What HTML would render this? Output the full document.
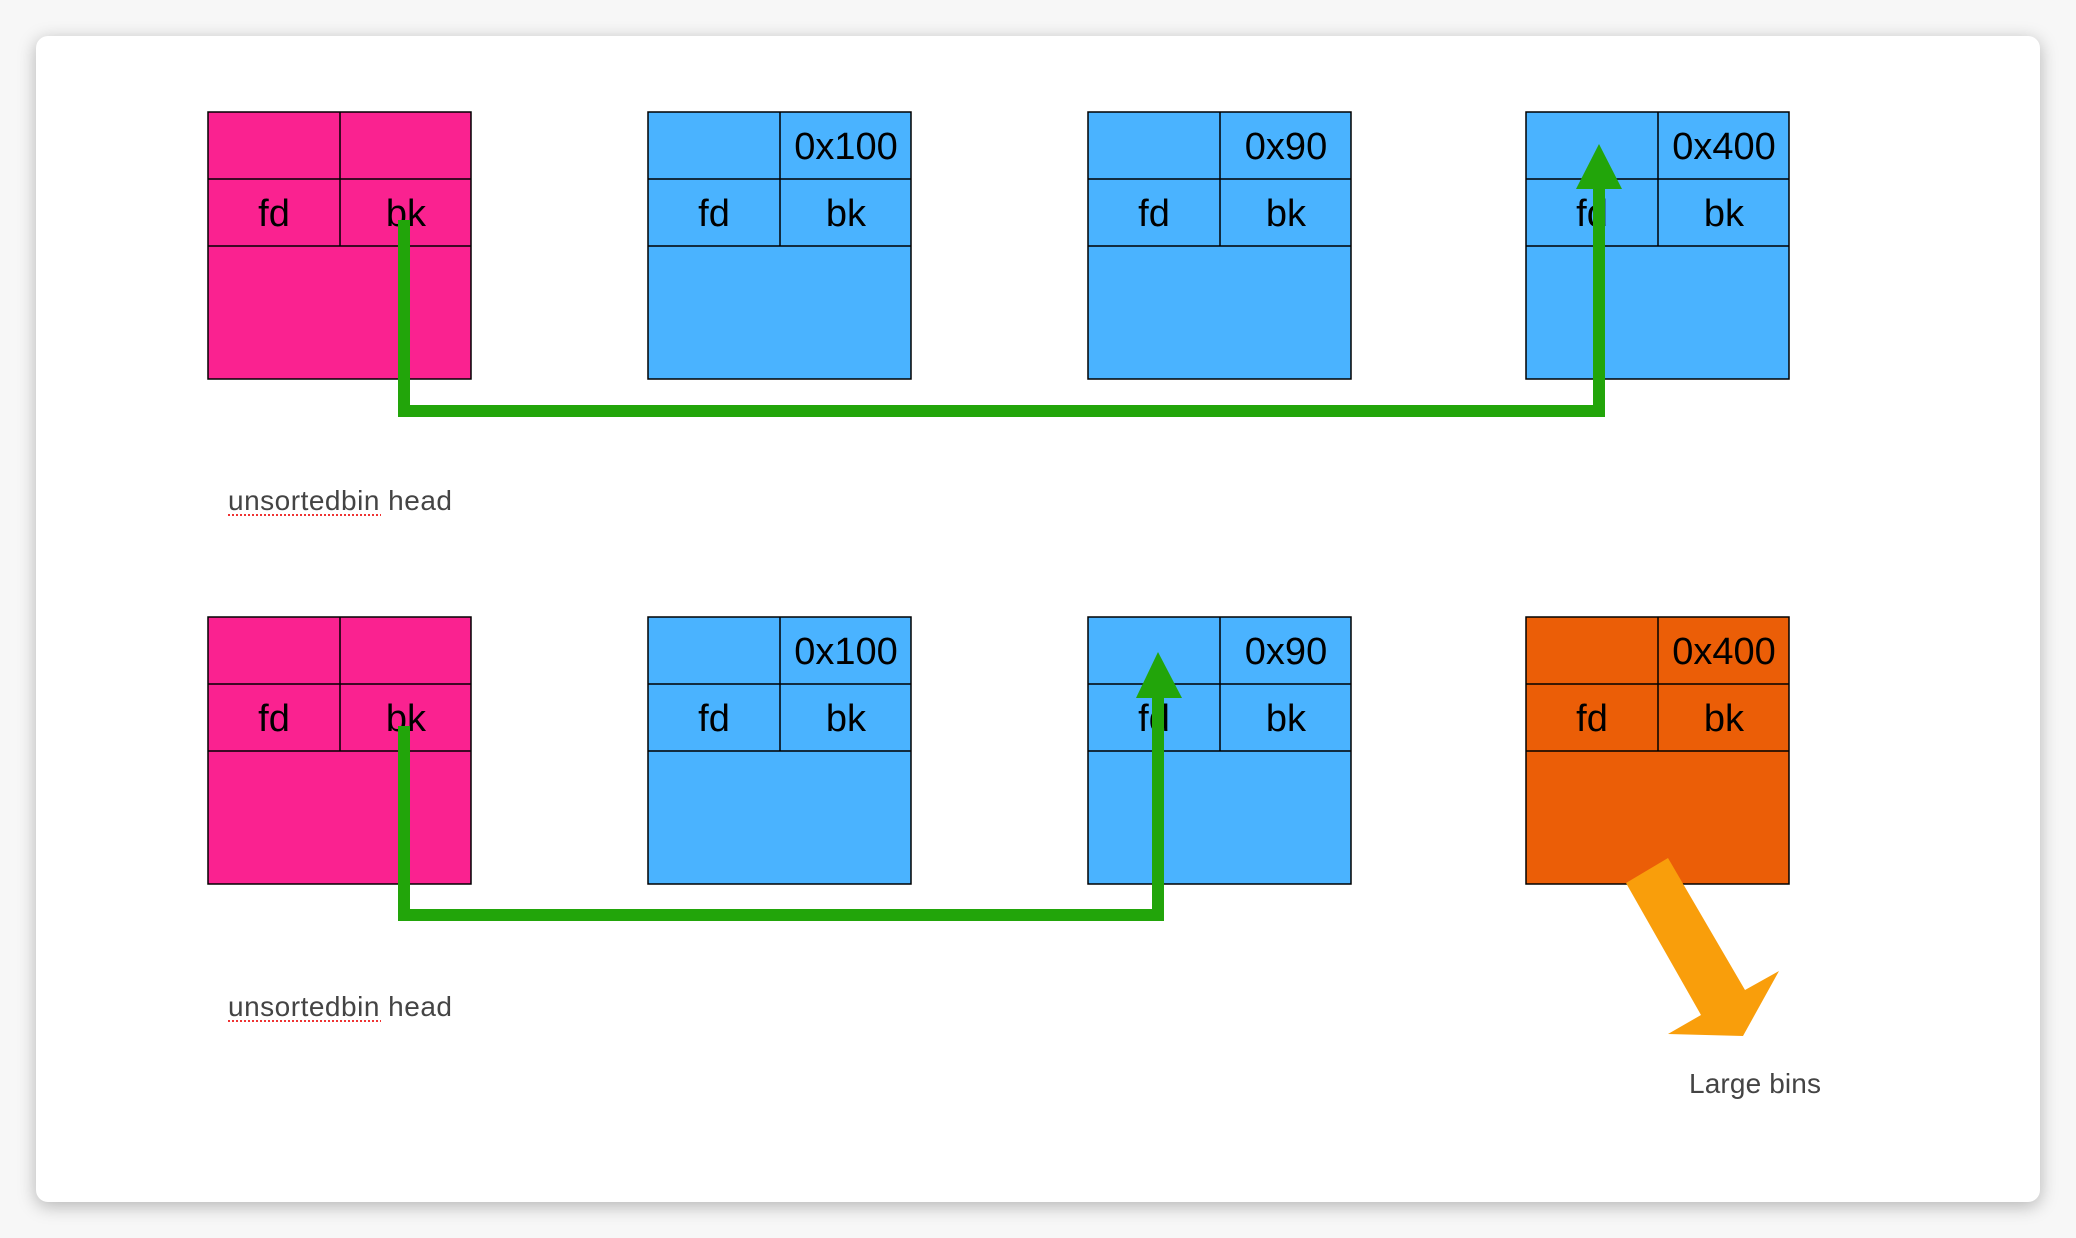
<!DOCTYPE html>
<html><head><meta charset="utf-8"><style>
html,body{margin:0;padding:0;background:#f7f7f7;width:2076px;height:1238px;overflow:hidden}
#card{position:absolute;left:36px;top:36px;width:2004px;height:1166px;background:#fff;border-radius:12px;box-shadow:0 4px 18px rgba(0,0,0,0.28)}
svg{position:absolute;left:0;top:0}
text{font-family:"Liberation Sans",sans-serif}
</style></head><body>
<div id="card"></div>
<svg width="2076" height="1238" viewBox="0 0 2076 1238">
<defs>
<g id="grid">
<line x1="0" y1="67" x2="263" y2="67" stroke="#000" stroke-width="1.5"/>
<line x1="0" y1="134" x2="263" y2="134" stroke="#000" stroke-width="1.5"/>
<line x1="132" y1="0" x2="132" y2="134" stroke="#000" stroke-width="1.5"/>
<rect x="0" y="0" width="263" height="267" fill="none" stroke="#000" stroke-width="1.5"/>
<text x="66" y="114" font-size="38" text-anchor="middle">fd</text>
<text x="198" y="114" font-size="38" text-anchor="middle">bk</text>
</g>
</defs>
<rect x="208" y="112" width="263" height="267" fill="#FA2290"/>
<use href="#grid" x="208" y="112"/>
<rect x="648" y="112" width="263" height="267" fill="#4AB3FF"/>
<use href="#grid" x="648" y="112"/>
<text x="846" y="159" font-size="38" text-anchor="middle">0x100</text>
<rect x="1088" y="112" width="263" height="267" fill="#4AB3FF"/>
<use href="#grid" x="1088" y="112"/>
<text x="1286" y="159" font-size="38" text-anchor="middle">0x90</text>
<rect x="1526" y="112" width="263" height="267" fill="#4AB3FF"/>
<use href="#grid" x="1526" y="112"/>
<text x="1724" y="159" font-size="38" text-anchor="middle">0x400</text>
<path d="M404 220 V411 H1599 V185" fill="none" stroke="#22A50A" stroke-width="12"/>
<polygon points="1599,144 1576,189 1622,189" fill="#22A50A"/>
<text x="228" y="510" font-size="28" fill="#444" textLength="224">unsortedbin head</text>
<line x1="228" y1="515" x2="381" y2="515" stroke="#e33" stroke-width="2" stroke-dasharray="2,2"/>
<rect x="208" y="617" width="263" height="267" fill="#FA2290"/>
<use href="#grid" x="208" y="617"/>
<rect x="648" y="617" width="263" height="267" fill="#4AB3FF"/>
<use href="#grid" x="648" y="617"/>
<text x="846" y="664" font-size="38" text-anchor="middle">0x100</text>
<rect x="1088" y="617" width="263" height="267" fill="#4AB3FF"/>
<use href="#grid" x="1088" y="617"/>
<text x="1286" y="664" font-size="38" text-anchor="middle">0x90</text>
<rect x="1526" y="617" width="263" height="267" fill="#EB5E07"/>
<use href="#grid" x="1526" y="617"/>
<text x="1724" y="664" font-size="38" text-anchor="middle">0x400</text>
<path d="M404 726 V915 H1158 V692" fill="none" stroke="#22A50A" stroke-width="12"/>
<polygon points="1158,652 1136,698 1182,698" fill="#22A50A"/>
<text x="228" y="1016" font-size="28" fill="#444" textLength="224">unsortedbin head</text>
<line x1="228" y1="1021" x2="381" y2="1021" stroke="#e33" stroke-width="2" stroke-dasharray="2,2"/>
<polygon points="1668,858 1626,883 1701,1015 1668,1034 1743,1036 1779,971 1745,990" fill="#F99E0B"/>
<text x="1689" y="1093" font-size="28" fill="#444" textLength="132">Large bins</text>
</svg>
</body></html>
